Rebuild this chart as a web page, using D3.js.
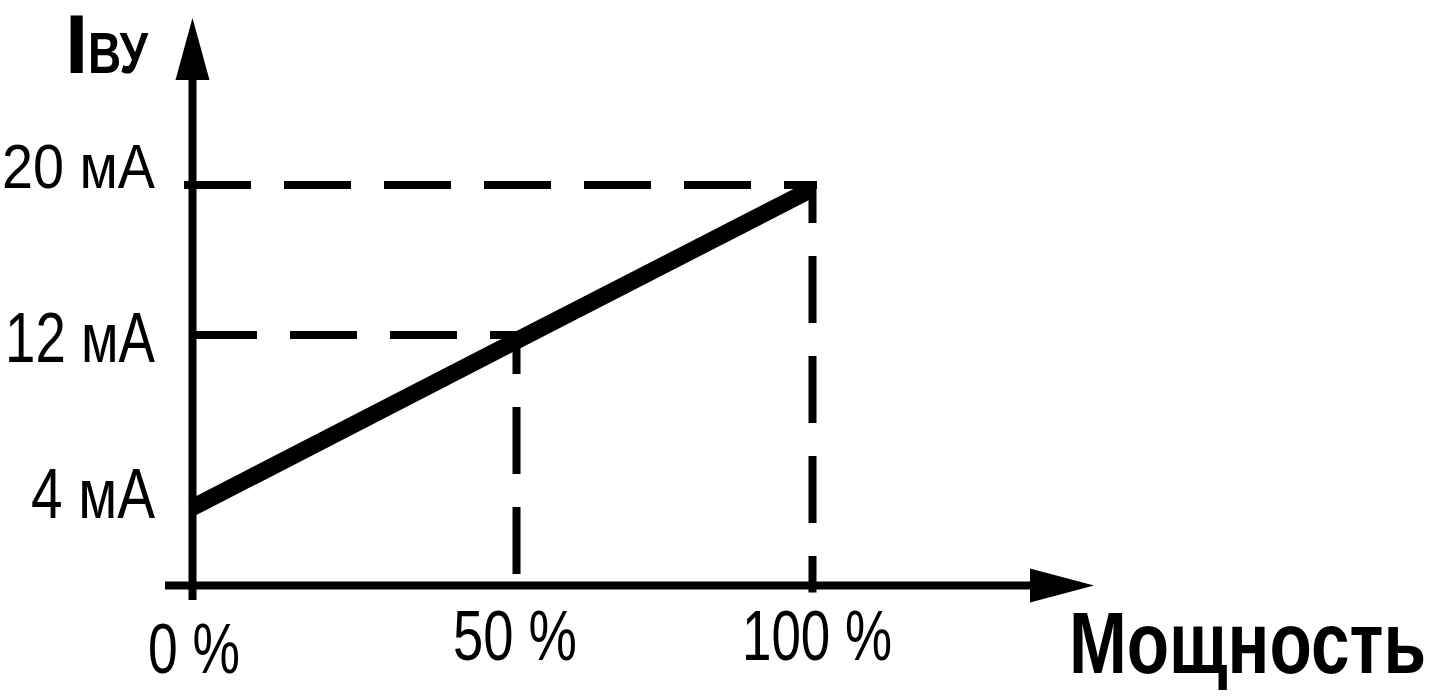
<!DOCTYPE html>
<html>
<head>
<meta charset="utf-8">
<script src="https://cdn.jsdelivr.net/npm/d3@7"></script>
<style>
  html, body { margin: 0; padding: 0; background: #ffffff; }
  svg { display: block; }
</style>
</head>
<body>
<svg id="chart" width="1431" height="700"></svg>
<script>
// ---- data ----
const powerTicks = [0, 50, 100];
const powerTickLabels = ["0 %", "50 %", "100 %"];
const currentTicks = [4, 12, 20];
const currentTickLabels = ["4 мА", "12 мА", "20 мА"];
const linePower = [0, 50, 100];
const lineCurrent = [2.8, 11.7, 19.8];
const guidePower = [50, 100];
const guideCurrent = [12, 20];
const yTitleMain = "I";
const yTitleSub = "ВУ";
const xTitle = "Мощность";

// ---- layout ----
const W = 1431, H = 700;
const svg = d3.select("#chart");
svg.append("rect").attr("width", W).attr("height", H).attr("fill", "#fff");

const x = d3.scaleLinear().domain([0, 50, 100]).range([192.5, 516.5, 812.5]);
const y = d3.scaleLinear().domain([12, 20]).range([335, 185]);

const axisY = 585.5;
const axisX = x(0);
const fontReg = "'Liberation Sans Narrow', 'Arial Narrow', 'Liberation Sans', Arial, sans-serif";
const fontBold = fontReg;

const g = svg.append("g");

// guide dashed lines
const guides = guidePower.map((p, i) => ({ p, c: guideCurrent[i] }));
const hStart = [190, 184];
const vOffset = [24, 25];
const vEndExtra = [0, 7];
guides.forEach((d, i) => {
  g.append("line")
    .attr("x1", hStart[i]).attr("x2", x(d.p) + 4.5)
    .attr("y1", y(d.c)).attr("y2", y(d.c))
    .attr("stroke", "#000").attr("stroke-width", 8)
    .attr("stroke-dasharray", "67,33");
  g.append("line")
    .attr("x1", x(d.p)).attr("x2", x(d.p))
    .attr("y1", y(d.c) - 4).attr("y2", axisY + vEndExtra[i])
    .attr("stroke", "#000").attr("stroke-width", 8)
    .attr("stroke-dasharray", "67,33")
    .attr("stroke-dashoffset", vOffset[i]);
});

// axes
g.append("line").attr("x1", axisX).attr("x2", axisX)
  .attr("y1", 78).attr("y2", 600)
  .attr("stroke", "#000").attr("stroke-width", 8);
g.append("line").attr("x1", 165).attr("x2", 1032)
  .attr("y1", axisY).attr("y2", axisY)
  .attr("stroke", "#000").attr("stroke-width", 8);
// arrowheads
g.append("path")
  .attr("d", `M${axisX},18 L${axisX + 17},80 L${axisX - 17},80 Z`)
  .attr("fill", "#000");
g.append("path")
  .attr("d", `M1094,${axisY} L1030,${axisY - 17} L1030,${axisY + 17} Z`)
  .attr("fill", "#000");

// main line
const lineData = linePower.map((p, i) => ({ p, c: lineCurrent[i] }));
g.append("path")
  .datum(lineData)
  .attr("d", d3.line().x(d => x(d.p)).y(d => y(d.c)))
  .attr("fill", "none").attr("stroke", "#000")
  .attr("stroke-width", 17).attr("stroke-linecap", "butt");

// y tick labels
const yLabelDy = [33, 27, 3];
const yLabelSize = [70, 70, 63];
const yLabelLen = [124, 150, 153];
currentTicks.forEach((v, i) => {
  g.append("text")
    .attr("x", 155).attr("y", y(v) + yLabelDy[i])
    .attr("text-anchor", "end")
    .attr("font-family", fontReg).attr("font-size", yLabelSize[i])
    .attr("textLength", yLabelLen[i]).attr("lengthAdjust", "spacingAndGlyphs")
    .attr("fill", "#000")
    .text(currentTickLabels[i]);
});

// x tick labels
const xLabelDx = [1.5, -1.5, 4.5];
const xLabelBase = [673, 660, 660];
const xLabelLen = [92, 124, 150];
powerTicks.forEach((v, i) => {
  g.append("text")
    .attr("x", x(v) + xLabelDx[i]).attr("y", xLabelBase[i])
    .attr("text-anchor", "middle")
    .attr("font-family", fontReg).attr("font-size", 70)
    .attr("textLength", xLabelLen[i]).attr("lengthAdjust", "spacingAndGlyphs")
    .attr("fill", "#000")
    .text(powerTickLabels[i]);
});

// titles
g.append("text")
  .attr("x", 65).attr("y", 73)
  .attr("font-family", fontBold).attr("font-weight", "bold").attr("font-size", 84)
  .attr("fill", "#000").text(yTitleMain);
g.append("text")
  .attr("x", 88).attr("y", 73)
  .attr("font-family", fontBold).attr("font-weight", "bold").attr("font-size", 57)
  .attr("textLength", 60).attr("lengthAdjust", "spacingAndGlyphs")
  .attr("fill", "#000").text(yTitleSub);
g.append("text")
  .attr("x", 1069).attr("y", 673)
  .attr("font-family", fontBold).attr("font-weight", "bold").attr("font-size", 88)
  .attr("textLength", 357).attr("lengthAdjust", "spacingAndGlyphs")
  .attr("fill", "#000").text(xTitle);
</script>
</body>
</html>
